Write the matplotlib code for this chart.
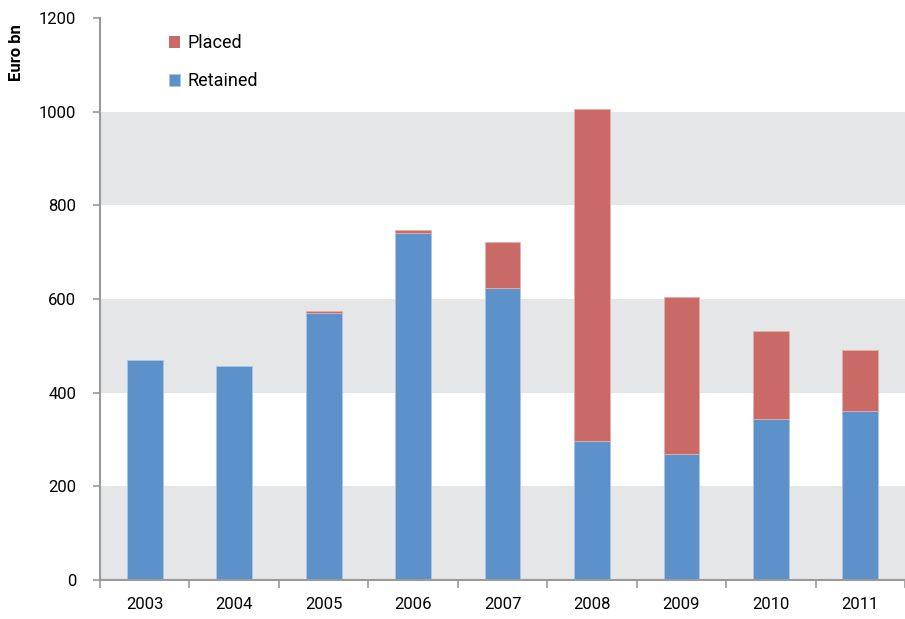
import matplotlib.pyplot as plt
import numpy as np

plt.rcParams["font.family"] = ["Roboto", "DejaVu Sans"]

# --- Data (Euro bn) ---
years = ["2003", "2004", "2005", "2006", "2007", "2008", "2009", "2010", "2011"]
retained = [470, 457, 570, 741, 623, 297, 269, 344, 361]
placed = [0, 0, 5, 6, 99, 709, 335, 188, 130]

BLUE = "#5C91C9"
RED = "#C96A66"
BAND = "#E5E6E8"
AXIS = "#9A9A9A"

fig = plt.figure(figsize=(9.05, 6.19), dpi=100)
ax = fig.add_axes([0.1105, 0.063, 0.8895, 0.908])

x = np.arange(len(years))

# Alternating grey bands behind the bars
for lo in (0, 400, 800):
    ax.axhspan(lo, lo + 200, color=BAND, lw=0, zorder=0)

ax.bar(x, retained, width=0.4, color=BLUE, edgecolor="#A9C6E6",
       linewidth=0.6, label="Retained", zorder=2)
# no edge on empty segments, otherwise a red line shows on top
red_edges = ["#E3B0AD" if v > 0 else "none" for v in placed]
ax.bar(x, placed, width=0.4, bottom=retained, color=RED, edgecolor=red_edges,
       linewidth=0.6, label="Placed", zorder=2)

ax.set_xlim(-0.5, len(years) - 0.5)
ax.set_ylim(0, 1200)
ax.set_yticks(range(0, 1201, 200))

ax.set_xticks(x)
ax.set_xticklabels(years)
ax.set_xticks(np.arange(-0.5, len(years), 1), minor=True)
ax.tick_params(axis="x", which="major", length=0, pad=12, labelsize=12)
ax.tick_params(axis="x", which="minor", length=6, width=1.2, color=AXIS)
ax.tick_params(axis="y", length=5, width=1.2, color=AXIS, pad=12, labelsize=12)

for side in ("top", "right"):
    ax.spines[side].set_visible(False)
for side in ("left", "bottom"):
    ax.spines[side].set_color(AXIS)
    ax.spines[side].set_linewidth(1.5)

fig.text(0.018, 0.915, "Euro bn", rotation=90, fontsize=12,
         fontweight="bold", ha="center", va="center")

handles, labels = ax.get_legend_handles_labels()
ax.legend(handles[::-1], labels[::-1], loc="upper left",
          bbox_to_anchor=(0.065, 1.0), frameon=False, fontsize=13,
          handlelength=0.65, handleheight=0.65, handletextpad=0.4,
          labelspacing=1.1)

fig.savefig("out.png", dpi=100)
